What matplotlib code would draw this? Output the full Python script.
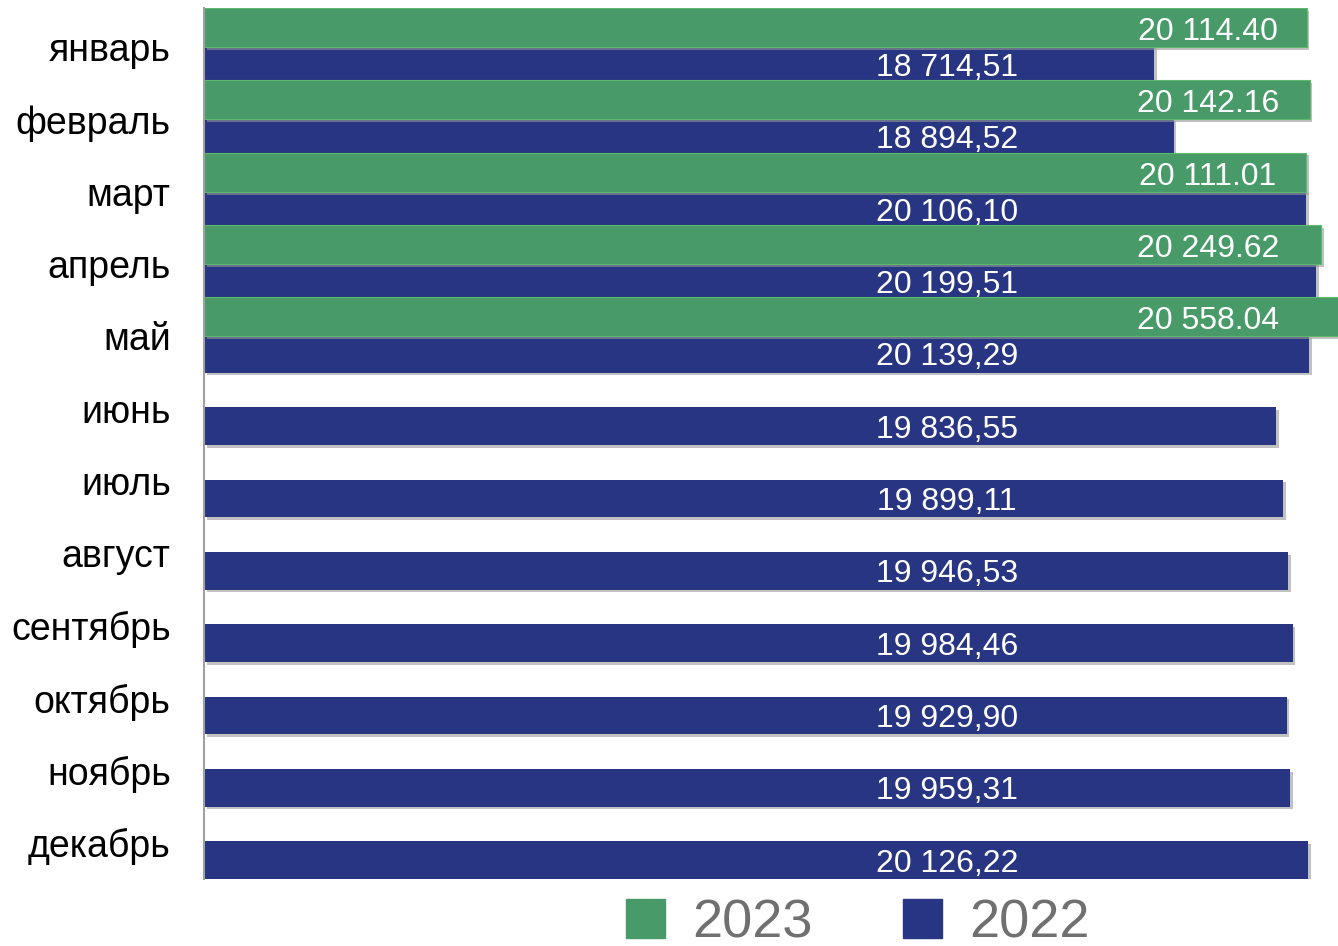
import numpy as np
import matplotlib
matplotlib.use("Agg")
import matplotlib.pyplot as plt
import matplotlib.patheffects as pe
from matplotlib.patches import Patch

plt.rcParams['font.family'] = ['Liberation Sans', 'DejaVu Sans']

months = ['январь', 'февраль', 'март', 'апрель', 'май', 'июнь', 'июль',
          'август', 'сентябрь', 'октябрь', 'ноябрь', 'декабрь']
v2023 = [20114.40, 20142.16, 20111.01, 20249.62, 20558.04]
v2022 = [18714.51, 18894.52, 20106.10, 20199.51, 20139.29, 19836.55, 19899.11,
         19946.53, 19984.46, 19929.90, 19959.31, 20126.22]
lab2023 = ['20 114.40', '20 142.16', '20 111.01', '20 249.62', '20 558.04']
lab2022 = ['18 714,51', '18 894,52', '20 106,10', '20 199,51', '20 139,29',
           '19 836,55', '19 899,11', '19 946,53', '19 984,46', '19 929,90',
           '19 959,31', '20 126,22']

green = '#489B68'
blue = '#283583'
xmin = 10000

fig = plt.figure(figsize=(13.38, 9.46), dpi=100)
ax = fig.add_axes([204 / 1338, 1 - 879 / 946, 1 - 204 / 1338, (879 - 8) / 946])

shadow = [pe.SimplePatchShadow(offset=(2, -2), shadow_rgbFace='#999999', alpha=0.6), pe.Normal()]

y = np.arange(len(months))
b22 = ax.barh(y + 0.24, np.array(v2022) - xmin, left=xmin, height=0.52, color=blue)
y23 = np.arange(len(v2023))
b23 = ax.barh(y23 - 0.27, np.array(v2023) - xmin, left=xmin, height=0.54, color=green,
              edgecolor='#5cb86a', linewidth=0.8)
for b in list(b22) + list(b23):
    b.set_path_effects(shadow)

for i, t in enumerate(lab2022):
    ax.text(16815, i + 0.29, t, color='white', fontsize=23, ha='center', va='center')
for i, t in enumerate(lab2023):
    ax.text(19210, i - 0.21, t, color='white', fontsize=23, ha='center', va='center')

ax.set_xlim(xmin, xmin + 1134 / 0.10902)
ax.set_ylim(11.5, -0.54)
ax.set_yticks(y)
ax.set_yticklabels(months, fontsize=27)
ax.tick_params(axis='y', length=0, pad=24)
ax.set_xticks([])
for s in ['top', 'right', 'bottom']:
    ax.spines[s].set_visible(False)
ax.spines['left'].set_color('#a0a0a0')
ax.spines['left'].set_linewidth(1.5)

handles = [Patch(color=green, label='2023'), Patch(color=blue, label='2022')]
fig.legend(handles=handles, loc='center', bbox_to_anchor=(0.641, 0.024), ncol=2,
           frameon=False, fontsize=39, labelcolor='#707070', handlelength=0.72,
           handleheight=0.72, handletextpad=0.5, columnspacing=1.67,
           borderpad=0, borderaxespad=0)

fig.savefig('out.png', dpi=100)
